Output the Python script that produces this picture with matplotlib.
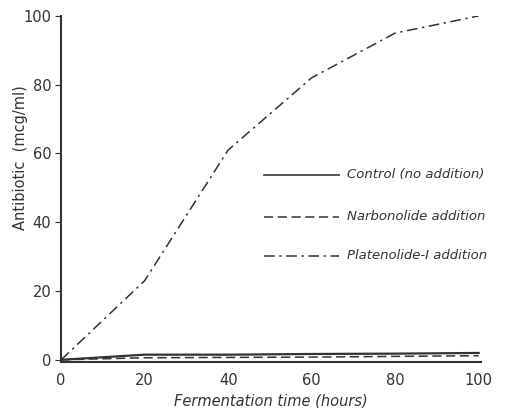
import matplotlib
matplotlib.use("Agg")
import matplotlib.pyplot as plt

hours = [0, 20, 40, 60, 80, 100]
control = [0, 1.5, 1.5, 1.7, 1.8, 2.0]
narbonolide = [0, 0.6, 0.7, 0.8, 1.0, 1.2]
platenolide = [0, 23, 61, 82, 95, 100]

xticks = [0, 20, 40, 60, 80, 100]
yticks = [0, 20, 40, 60, 80, 100]

labels = ["Control (no addition)", "Narbonolide addition", "Platenolide-I addition"]

plt.rcParams['font.family'] = ['DejaVu Sans']
col = '#333333'

fig = plt.figure(figsize=(5.05, 4.08), dpi=100)
ax = fig.add_axes([0.121, 0.113, 0.831, 0.848])

ax.plot(hours, control, color=col, lw=1.6, ls='-')
ax.plot(hours, narbonolide, color=col, lw=1.1, ls=(0, (6, 3)))
ax.plot(hours, platenolide, color=col, lw=1.1, ls=(0, (7, 3, 1.5, 3)))

# in-plot legend
leg_y = [53.8, 41.6, 30.3]
styles = [dict(lw=1.2, ls='-'), dict(lw=1.1, ls=(0, (6, 3))), dict(lw=1.1, ls=(0, (7, 3, 1.5, 3)))]
for y, lab, st in zip(leg_y, labels, styles):
    ax.plot([48.5, 66.5], [y, y], color=col, **st)
    ax.text(68.5, y, lab, fontsize=9.5, style='italic', color=col, va='center', ha='left')

ax.set_xlim(0, 100.5)
ax.set_ylim(-0.6, 100)
ax.set_xticks(xticks)
ax.set_yticks(yticks)
ax.tick_params(axis='x', length=0, pad=8, labelsize=10.5, colors=col)
ax.tick_params(axis='y', length=4, direction='out', pad=3, labelsize=10.5, colors=col)
for s in ['top', 'right']:
    ax.spines[s].set_visible(False)
for s in ['left', 'bottom']:
    ax.spines[s].set_color(col)
    ax.spines[s].set_linewidth(1.5)

ax.set_xlabel("Fermentation time (hours)", fontsize=10.5, style='italic', color=col, labelpad=4)
ax.set_ylabel("Antibiotic  (mcg/ml)", fontsize=10.5, color=col, labelpad=8)
ax.yaxis.set_label_coords(-0.08, 0.59)

fig.savefig("out.png", dpi=100, facecolor='white')
